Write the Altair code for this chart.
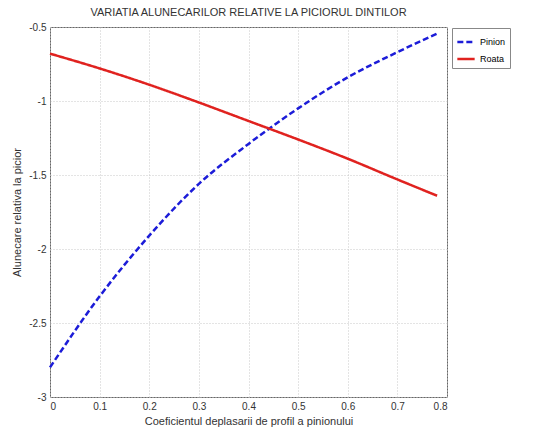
import altair as alt
import pandas as pd

x_vals = [0.0, 0.1, 0.2, 0.3, 0.4, 0.5, 0.6, 0.7, 0.78]
pinion = [-2.80, -2.32, -1.91, -1.56, -1.29, -1.05, -0.84, -0.67, -0.545]
roata = [-0.68, -0.78, -0.89, -1.01, -1.135, -1.26, -1.39, -1.53, -1.64]
series_names = ["Pinion", "Roata"]
x_ticks = [0, 0.1, 0.2, 0.3, 0.4, 0.5, 0.6, 0.7, 0.8]
y_ticks = [-3, -2.5, -2, -1.5, -1, -0.5]

rows = []
for name, vals in zip(series_names, [pinion, roata]):
    for xv, yv in zip(x_vals, vals):
        rows.append({"x": xv, "y": yv, "serie": name})
df = pd.DataFrame(rows)

font = "Liberation Sans"

chart = alt.Chart(df).mark_line(strokeWidth=2.5, interpolate="monotone").encode(
    x=alt.X("x:Q", scale=alt.Scale(domain=[0, 0.8], nice=False, zero=False),
            axis=alt.Axis(values=x_ticks, title="Coeficientul deplasarii de profil a pinionului",
                          labelExpr="'' + datum.value")),
    y=alt.Y("y:Q", scale=alt.Scale(domain=[-3, -0.5], nice=False, zero=False),
            axis=alt.Axis(values=y_ticks, title="Alunecare relativa la picior",
                          labelExpr="'' + datum.value")),
    color=alt.Color("serie:N", scale=alt.Scale(domain=series_names, range=["#1c1cd8", "#e0221f"]),
                    legend=alt.Legend(title=None, orient="none", legendX=402, legendY=1,
                                      symbolType="stroke", symbolStrokeWidth=2.5, symbolSize=300,
                                      strokeColor="#888", padding=4, labelFontSize=9,
                                      labelFont=font, rowPadding=2, fillColor="white")),
    strokeDash=alt.StrokeDash("serie:N", scale=alt.Scale(domain=series_names, range=[[6, 3], [1, 0]]),
                              legend=None),
).properties(
    width=397, height=370,
    title=alt.Title("VARIATIA ALUNECARILOR RELATIVE LA PICIORUL DINTILOR", fontSize=11,
                    font=font, fontWeight="normal", color="#333", offset=4),
    autosize=alt.AutoSizeParams(type="none"),
    padding={"left": 42, "top": 19, "right": 80, "bottom": 30},
).configure_view(
    stroke="#666", strokeWidth=1
).configure_axis(
    grid=True, gridColor="#c8c8c8", gridDash=[1, 2], gridWidth=1,
    domain=False, ticks=False, labelFont=font, labelFontSize=10, labelColor="#333",
    titleFont=font, titleFontSize=11, titleFontWeight="normal", titleColor="#333",
    labelPadding=4
).configure_axisX(titlePadding=4).configure_axisY(titlePadding=6)

chart.save("out.html", embed_options={"renderer": "svg", "actions": False})
